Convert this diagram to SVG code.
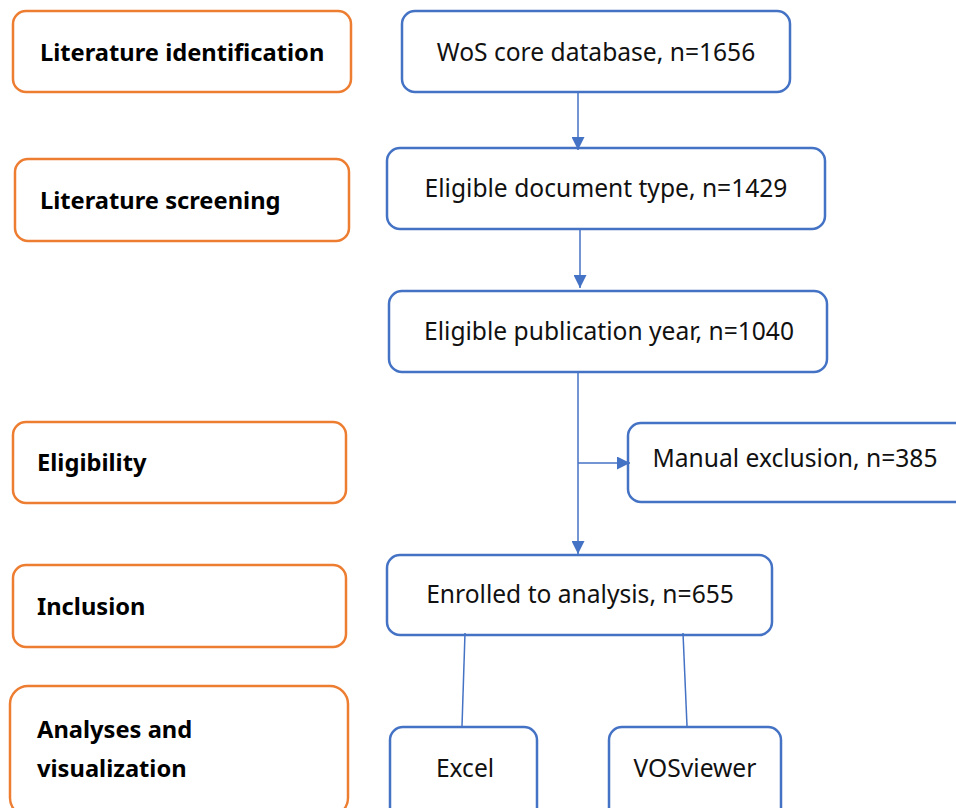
<svg xmlns="http://www.w3.org/2000/svg" width="956" height="808" viewBox="0 0 956 808">
<style>
.o{fill:#fff;stroke:#ED7D31;stroke-width:2.5}
.b{fill:#fff;stroke:#4472C4;stroke-width:2.5}
.lt{font-family:"Noto Sans","Open Sans",sans-serif;font-weight:bold;font-size:23.7px;fill:#000}
.bt{font-family:"Noto Sans","Open Sans",sans-serif;font-size:24.6px;fill:#111;text-anchor:middle}
.c{stroke:#4472C4;stroke-width:1.5;fill:none}
</style>
<defs>
<marker id="ah" markerWidth="13" markerHeight="13" refX="13" refY="6.5" orient="auto" markerUnits="userSpaceOnUse" viewBox="0 0 13 13">
<path d="M0,0 L13,6.5 L0,13 Z" fill="#4472C4"/>
</marker>
</defs>
<rect width="956" height="808" fill="#fff"/>
<g id="stage1"><rect class="o" x="13" y="11" width="338" height="81" rx="13"/><text class="lt" x="40" y="61">Literature identification</text></g>
<g id="stage2"><rect class="o" x="15" y="159" width="334" height="82" rx="13"/><text class="lt" x="40" y="209">Literature screening</text></g>
<g id="stage3"><rect class="o" x="13" y="422" width="333" height="81" rx="13"/><text class="lt" x="37" y="471">Eligibility</text></g>
<g id="stage4"><rect class="o" x="13" y="565" width="333" height="82" rx="13"/><text class="lt" x="37" y="615">Inclusion</text></g>
<g id="stage5"><rect class="o" x="10" y="686" width="338" height="130" rx="18"/><text class="lt" x="37" y="738">Analyses and</text><text class="lt" x="37" y="777">visualization</text></g>
<g id="wos"><rect class="b" x="402" y="11" width="388" height="81" rx="13"/><text class="bt" x="596" y="61">WoS core database, n=1656</text></g>
<g id="doctype"><rect class="b" x="387" y="148" width="438" height="81" rx="13"/><text class="bt" x="606" y="197">Eligible document type, n=1429</text></g>
<g id="pubyear"><rect class="b" x="389" y="291" width="438" height="81" rx="13"/><text class="bt" x="609" y="340">Eligible publication year, n=1040</text></g>
<g id="manual"><rect class="b" x="628" y="423" width="345" height="79" rx="13"/><text class="bt" x="795" y="467">Manual exclusion, n=385</text></g>
<g id="enrolled"><rect class="b" x="387" y="555" width="385" height="80" rx="13"/><text class="bt" x="580" y="603">Enrolled to analysis, n=655</text></g>
<g id="excel"><rect class="b" x="390" y="727" width="147" height="95" rx="13"/><text class="bt" x="465" y="777">Excel</text></g>
<g id="vos"><rect class="b" x="609" y="727" width="172" height="95" rx="13"/><text class="bt" x="695" y="777">VOSviewer</text></g>
<g id="connectors">
<line class="c" x1="578" y1="93" x2="578" y2="150" marker-end="url(#ah)"/>
<line class="c" x1="580" y1="230" x2="580" y2="288" marker-end="url(#ah)"/>
<line class="c" x1="578" y1="373" x2="578" y2="554" marker-end="url(#ah)"/>
<line class="c" x1="578" y1="463" x2="630" y2="463" marker-end="url(#ah)"/>
<line class="c" x1="465" y1="633" x2="462" y2="726"/>
<line class="c" x1="683" y1="633" x2="687" y2="726"/>
</g>
</svg>
